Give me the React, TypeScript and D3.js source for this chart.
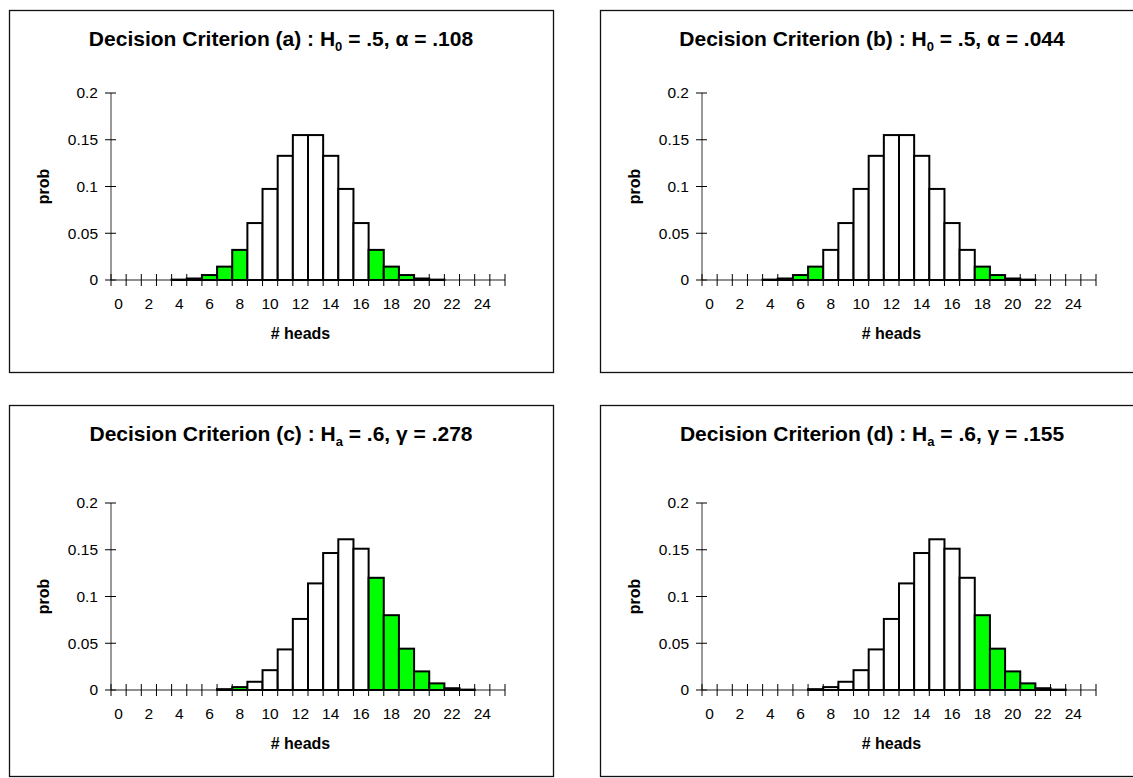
import React, { useRef, useEffect } from "react";
import * as d3 from "d3";

// number of heads in 25 tosses
const heads = [
  0, 1, 2, 3, 4, 5, 6, 7, 8, 9, 10, 11, 12, 13, 14, 15, 16, 17, 18, 19, 20, 21, 22, 23, 24, 25,
];

// P(k) when p = .5 (blank where no bar is drawn)
const probH0 = [
  null, null, null, null, 0.0004, 0.0016, 0.0053, 0.0143, 0.0322, 0.0609, 0.0974, 0.1328, 0.155,
  0.155, 0.1328, 0.0974, 0.0609, 0.0322, 0.0143, 0.0053, 0.0016, 0.0004, null, null, null, null,
];

// P(k) when p = .6
const probHa = [
  null, null, null, null, null, null, null, 0.0009, 0.0031, 0.0088, 0.0212, 0.0434, 0.076, 0.114,
  0.1465, 0.1612, 0.1511, 0.12, 0.08, 0.0442, 0.0199, 0.0071, 0.0019, 0.0004, null, null,
];

// shaded (green) outcomes of each panel
const rejectA = [4, 5, 6, 7, 8, 17, 18, 19, 20, 21];
const rejectB = [4, 5, 6, 7, 18, 19, 20, 21];
const rejectC = [7, 8, 17, 18, 19, 20, 21, 22, 23];
const rejectD = [7, 18, 19, 20, 21, 22, 23];

const yTicks = [0, 0.05, 0.1, 0.15, 0.2];
const xTickLabels = [0, 2, 4, 6, 8, 10, 12, 14, 16, 18, 20, 22, 24];

const panels = [
  { x: 9, y: 10, h: 362, shift: 0, letter: "a", hyp: "0", p: ".5", greek: "α", val: ".108", data: probH0, reject: rejectA },
  { x: 600, y: 10, h: 362, shift: 0, letter: "b", hyp: "0", p: ".5", greek: "α", val: ".044", data: probH0, reject: rejectB },
  { x: 9, y: 405, h: 371, shift: 15, letter: "c", hyp: "a", p: ".6", greek: "γ", val: ".278", data: probHa, reject: rejectC },
  { x: 600, y: 405, h: 371, shift: 15, letter: "d", hyp: "a", p: ".6", greek: "γ", val: ".155", data: probHa, reject: rejectD },
];

const W = 544;
const font = "'Liberation Sans', Arial, Helvetica, sans-serif";

export default function App() {
  const ref = useRef<SVGSVGElement>(null);

  useEffect(() => {
    const svg = d3.select(ref.current);
    svg.selectAll("*").remove();

    panels.forEach((pn) => {
      const g = svg.append("g").attr("transform", `translate(${pn.x},${pn.y})`);

      g.append("rect")
        .attr("x", 0.5)
        .attr("y", 0.5)
        .attr("width", W)
        .attr("height", pn.h)
        .attr("fill", "#fff")
        .attr("stroke", "#111")
        .attr("stroke-width", 1.3);

      // title
      const t = g
        .append("text")
        .attr("x", W / 2)
        .attr("y", 36)
        .attr("text-anchor", "middle")
        .attr("font-family", font)
        .attr("font-weight", "bold")
        .attr("font-size", 21)
        .attr("fill", "#000");
      t.append("tspan").text(`Decision Criterion (${pn.letter}) : H`);
      t.append("tspan").attr("font-size", 13).attr("dy", 5).text(pn.hyp);
      t.append("tspan").attr("dy", -5).text(` = ${pn.p}, ${pn.greek} = ${pn.val}`);

      const plot = g.append("g").attr("transform", `translate(0,${pn.shift})`);

      const x = d3.scaleBand<number>().domain(heads).range([102, 496]).padding(0);
      const y = d3.scaleLinear().domain([0, 0.2]).range([270, 83]);

      // y axis
      plot.append("line")
        .attr("x1", 102).attr("x2", 102)
        .attr("y1", y(0.2)).attr("y2", y(0))
        .attr("stroke", "#555").attr("stroke-width", 1.2);
      yTicks.forEach((v) => {
        plot.append("line")
          .attr("x1", 96).attr("x2", 107)
          .attr("y1", y(v)).attr("y2", y(v))
          .attr("stroke", "#000").attr("stroke-width", 1);
        plot.append("text")
          .attr("x", 89).attr("y", y(v))
          .attr("dy", "0.35em")
          .attr("text-anchor", "end")
          .attr("font-family", font)
          .attr("font-size", 15.5)
          .text(String(v));
      });

      // x axis
      plot.append("line")
        .attr("x1", 102).attr("x2", 496)
        .attr("y1", y(0)).attr("y2", y(0))
        .attr("stroke", "#222").attr("stroke-width", 1.2);

      // bars
      heads.forEach((k, i) => {
        const v = pn.data[i];
        if (v == null) return;
        plot.append("rect")
          .attr("x", x(k)!)
          .attr("y", y(v))
          .attr("width", x.bandwidth())
          .attr("height", y(0) - y(v))
          .attr("fill", pn.reject.includes(k) ? "#00ff00" : "#fff")
          .attr("stroke", "#000")
          .attr("stroke-width", 2);
      });

      // x ticks at every boundary
      heads.concat([26]).forEach((k) => {
        const xx = k === 26 ? 496 : x(k)!;
        plot.append("line")
          .attr("x1", xx).attr("x2", xx)
          .attr("y1", y(0) - 6).attr("y2", y(0) + 6)
          .attr("stroke", "#000").attr("stroke-width", 1);
      });
      xTickLabels.forEach((k) => {
        plot.append("text")
          .attr("x", x(k)! + x.bandwidth() / 2)
          .attr("y", 294)
          .attr("dy", "0.35em")
          .attr("text-anchor", "middle")
          .attr("font-family", font)
          .attr("font-size", 15.5)
          .text(String(k));
      });

      plot.append("text")
        .attr("x", x(12)! + x.bandwidth() / 2)
        .attr("y", 323)
        .attr("dy", "0.35em")
        .attr("text-anchor", "middle")
        .attr("font-family", font)
        .attr("font-weight", "bold")
        .attr("font-size", 16)
        .text("# heads");

      plot.append("text")
        .attr("transform", `translate(34,${y(0.1)}) rotate(-90)`)
        .attr("dy", "0.35em")
        .attr("text-anchor", "middle")
        .attr("font-family", font)
        .attr("font-weight", "bold")
        .attr("font-size", 16)
        .text("prob");
    });
  }, []);

  return (
    <svg
      ref={ref}
      width={1133}
      height={778}
      style={{ position: "absolute", left: 0, top: 0, display: "block", background: "#fff" }}
    />
  );
}
